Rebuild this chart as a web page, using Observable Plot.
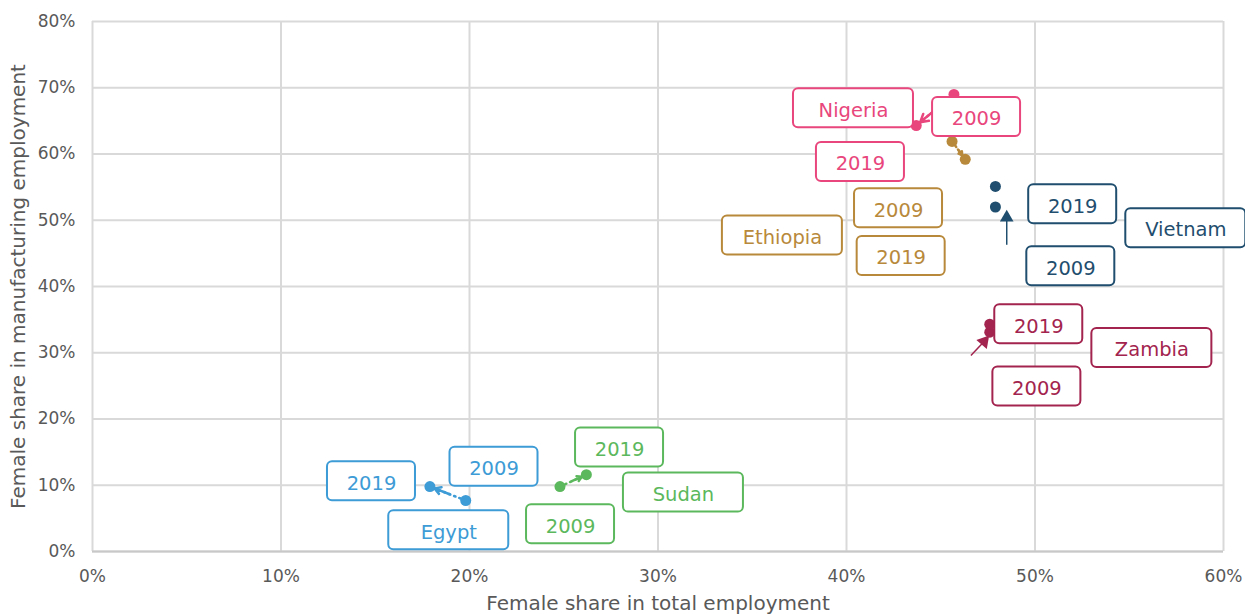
<!DOCTYPE html>
<html>
<head>
<meta charset="utf-8">
<script src="https://cdn.jsdelivr.net/npm/d3@7"></script>
<script src="https://cdn.jsdelivr.net/npm/@observablehq/plot@0.6"></script>
<style>
  html, body { margin: 0; padding: 0; background: #fff; }
  #chart { width: 1245px; height: 614px; }
</style>
</head>
<body>
<div id="chart"></div>
<script>
// ---- data ----
const countries = ["Nigeria", "Ethiopia", "Vietnam", "Zambia", "Egypt", "Sudan"];
const colors = ["#e8467c", "#b8893b", "#1f4e6e", "#a3244e", "#3d9bd6", "#5cb85c"];
const total2009 = [45.7, 45.6, 47.9, 47.6, 19.8, 24.8];
const manuf2009 = [69.0, 61.9, 52.0, 33.1, 7.7, 9.8];
const total2019 = [43.7, 46.3, 47.9, 47.6, 17.9, 26.2];
const manuf2019 = [64.3, 59.2, 55.1, 34.3, 9.8, 11.6];
const dottedTrend = [true, true, false, false, true, true];

const xTicks = [0, 10, 20, 30, 40, 50, 60];
const yTicks = [0, 10, 20, 30, 40, 50, 60, 70, 80];

// label annotations (data units)
const labelCountry = ["Nigeria","Nigeria","Nigeria","Ethiopia","Ethiopia","Ethiopia","Vietnam","Vietnam","Vietnam","Zambia","Zambia","Zambia","Egypt","Egypt","Egypt","Sudan","Sudan","Sudan"];
const labelText = ["Nigeria","2009","2019","Ethiopia","2009","2019","2019","Vietnam","2009","2019","Zambia","2009","2019","2009","Egypt","2019","Sudan","2009"];
const labelX = [40.37,46.9,40.74, 36.6,42.76,42.9, 52.0,58.0,51.9, 50.2,56.2,50.1, 14.8,21.3,18.9, 27.96,31.35,25.36];
const labelY = [66.9,65.6,58.8, 47.7,51.8,44.6, 52.4,48.8,43.05, 34.3,30.7,24.9, 10.6,12.8,3.2, 15.7,8.9,4.1];

// separate solid arrows (Vietnam, Zambia)
const arrowCountry = ["Vietnam", "Zambia"];
const arrowX1 = [48.5, 46.6];
const arrowY1 = [46.3, 29.6];
const arrowX2 = [48.5, 47.3];
const arrowY2 = [50.4, 31.7];
const arrowRotate = [0, 40];

// ---- tables built from arrays ----
const colorOf = Object.fromEntries(countries.map((c, i) => [c, colors[i]]));
const points = [];
countries.forEach((c, i) => {
  points.push({country: c, year: 2009, x: total2009[i], y: manuf2009[i]});
  points.push({country: c, year: 2019, x: total2019[i], y: manuf2019[i]});
});
const trends = countries.map((c, i) => ({country: c, x1: total2009[i], y1: manuf2009[i], x2: total2019[i], y2: manuf2019[i]}))
  .filter((d, i) => dottedTrend[i]);
const trendHeads = trends.map(d => ({
  country: d.country,
  x1: d.x1 + 0.45 * (d.x2 - d.x1), y1: d.y1 + 0.45 * (d.y2 - d.y1),
  x2: d.x2, y2: d.y2
}));
const labels = labelText.map((t, i) => ({country: labelCountry[i], text: t, x: labelX[i], y: labelY[i]}));
const arrows = arrowCountry.map((c, i) => ({country: c, x1: arrowX1[i], y1: arrowY1[i], x2: arrowX2[i], y2: arrowY2[i], rotate: arrowRotate[i]}));

const font = "'DejaVu Sans', sans-serif";
const gridColor = "#d9d9d9";
const textGray = "#595959";

function boxedText(index, scales, values, dimensions, context, next) {
  const g = next(index, scales, values, dimensions, context);
  const ns = "http://www.w3.org/2000/svg";
  const wrap = document.createElementNS(ns, "g");
  for (const i of index) {
    const d = labels[i];
    const w = d.text.length > 4 ? 120 : 88;
    const h = 39;
    const r = document.createElementNS(ns, "rect");
    r.setAttribute("x", values.x[i] - w / 2);
    r.setAttribute("y", values.y[i] - h / 2);
    r.setAttribute("width", w);
    r.setAttribute("height", h);
    r.setAttribute("rx", 5);
    r.setAttribute("fill", "white");
    r.setAttribute("stroke", colorOf[d.country]);
    r.setAttribute("stroke-width", 2);
    wrap.appendChild(r);
  }
  wrap.appendChild(g);
  return wrap;
}

const chart = Plot.plot({
  width: 1245,
  height: 614,
  marginLeft: 92,
  marginRight: 22,
  marginTop: 21,
  marginBottom: 63,
  style: {fontFamily: font, background: "white", overflow: "visible"},
  x: {domain: [0, 60]},
  y: {domain: [0, 80]},
  marks: [
    Plot.gridX(xTicks, {stroke: gridColor, strokeOpacity: 1, strokeWidth: 2}),
    Plot.gridY(yTicks, {stroke: gridColor, strokeOpacity: 1, strokeWidth: 2}),
    Plot.ruleY([0], {stroke: "#c8c8c8", strokeWidth: 2}),
    Plot.axisX(xTicks, {tickSize: 0, tickPadding: 18, tickFormat: d => d + "%", fontSize: 17, fill: textGray, label: null}),
    Plot.axisY(yTicks, {tickSize: 0, tickPadding: 17, tickFormat: d => d + "%", fontSize: 17, fill: textGray, label: null}),
    Plot.text(["Female share in total employment"], {frameAnchor: "bottom", dy: 58, fontSize: 20, fill: textGray}),
    Plot.text(["Female share in manufacturing employment"], {frameAnchor: "left", dx: -74, rotate: -90, textAnchor: "middle", fontSize: 20, fill: textGray}),
    // trend connectors
    Plot.link(trends, {x1: "x1", y1: "y1", x2: "x2", y2: "y2", stroke: d => colorOf[d.country], strokeWidth: 2.5, strokeDasharray: "1.5,4", strokeLinecap: "round"}),
    Plot.arrow(trendHeads, {x1: "x1", y1: "y1", x2: "x2", y2: "y2", stroke: d => colorOf[d.country], strokeWidth: 2.5, headLength: 9, insetEnd: 5, bend: 0}),
    // separate solid arrows
    Plot.link(arrows, {x1: "x1", y1: "y1", x2: "x2", y2: "y2", stroke: d => colorOf[d.country], strokeWidth: 1.5}),
    Plot.dot(arrows, {x: "x2", y: "y2", symbol: "triangle2", r: 6.5, rotate: "rotate", fill: d => colorOf[d.country], stroke: "none"}),
    // points
    Plot.dot(points, {x: "x", y: "y", r: 5.5, fill: d => colorOf[d.country], stroke: "none"}),
    // labels
    Plot.text(labels, {x: "x", y: "y", text: "text", fill: d => colorOf[d.country], fontSize: 19.5, dy: 2, render: boxedText})
  ]
});
document.getElementById("chart").appendChild(chart);
</script>
</body>
</html>
